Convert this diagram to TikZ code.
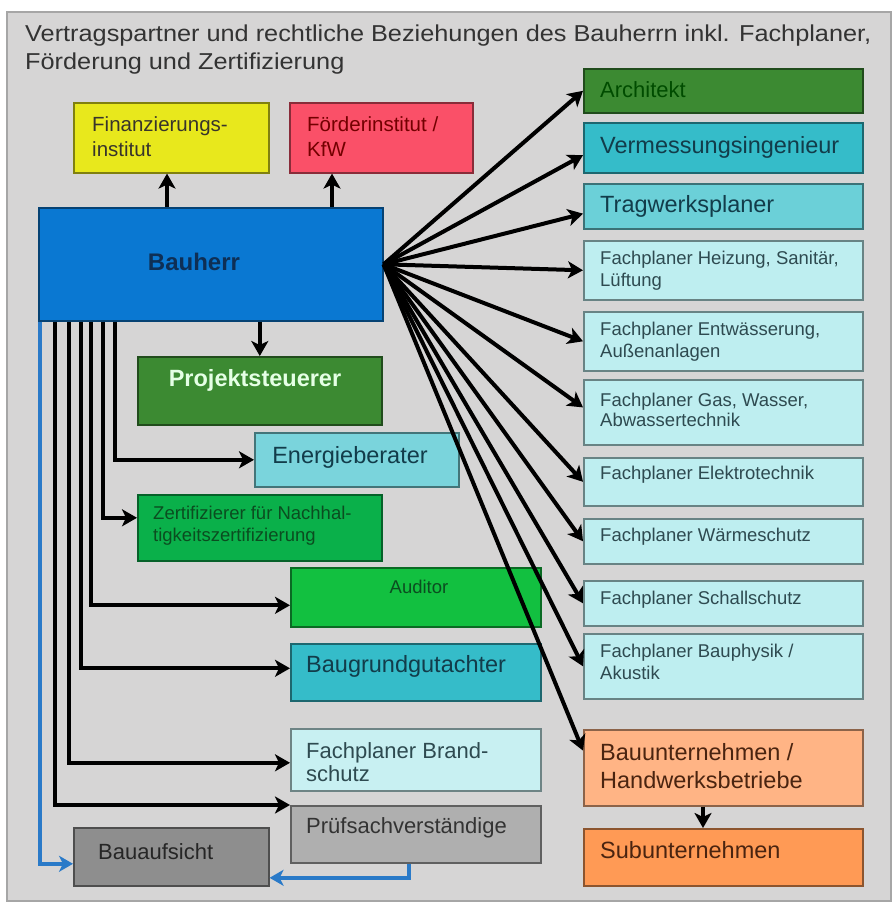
\documentclass[tikz,border=0pt]{standalone}
\usepackage{fontspec}
\setmainfont{Liberation Sans}
\newfontfamily\titlefont[FakeStretch=1.1]{Liberation Sans}
\usetikzlibrary{arrows.meta}

\definecolor{bggray}{HTML}{D6D5D5}
\definecolor{framegray}{HTML}{A6A6A6}
\definecolor{titlegray}{HTML}{333333}
\definecolor{cYellow}{HTML}{E8E81C}
\definecolor{cPink}{HTML}{FA5068}
\definecolor{cBlue}{HTML}{0A78D2}
\definecolor{cDarkGreen}{HTML}{3C8A32}
\definecolor{cEnergy}{HTML}{7AD4DC}
\definecolor{cGreen}{HTML}{0AB04A}
\definecolor{cAuditor}{HTML}{12C040}
\definecolor{cTeal}{HTML}{35BCC9}
\definecolor{cTrag}{HTML}{6BD0D8}
\definecolor{cLight}{HTML}{BEEEF0}
\definecolor{cBrand}{HTML}{C8F0F2}
\definecolor{cPruef}{HTML}{AFAFAF}
\definecolor{cAufsicht}{HTML}{8E8E8E}
\definecolor{cBau}{HTML}{FFB485}
\definecolor{cSub}{HTML}{FF9A55}
\definecolor{arrblue}{HTML}{2A7AC8}
\definecolor{tNavy}{HTML}{0E2F55}
\definecolor{tTeal}{HTML}{123C4A}
\definecolor{tGreen}{HTML}{0B4D20}
\definecolor{tBrown}{HTML}{4A2410}
\definecolor{tGray}{HTML}{2E4A50}

\tikzset{
  box/.style={draw=#1!55!black, fill=#1, line width=1.6pt, anchor=north west, inner sep=0pt},
  txt/.style={anchor=west, align=left, inner sep=0pt},
  fsmall/.style={font=\fontsize{18.5}{22}\selectfont},
  fmid/.style={font=\fontsize{22}{23}\selectfont},
  fbig/.style={font=\fontsize{23.5}{28}\selectfont},
  ftitle/.style={font=\titlefont\fontsize{23}{28}\selectfont},
  arr/.style={-{Stealth[length=15pt,width=17pt,inset=4pt]}, line width=4pt, black},
  bluearr/.style={-{Stealth[length=14pt,width=16pt,inset=4pt]}, line width=3.6pt, arrblue}
}

\begin{document}
\begin{tikzpicture}[x=1pt, y=-1pt]
  \useasboundingbox (0,0) rectangle (893,907);

  % background and title
  \filldraw[fill=bggray, draw=framegray, line width=1.5pt] (7,12) rectangle (891,901);
  \node[anchor=base west, inner sep=0pt, ftitle, text=titlegray] (title1) at (25,42) {Vertragspartner und rechtliche Beziehungen des Bauherrn inkl. Fachplaner,};
  \node[anchor=base west, inner sep=0pt, ftitle, text=titlegray] (title2) at (25,70) {Förderung und Zertifizierung};

  % left side boxes
  \node[box=cYellow, minimum width=195pt, minimum height=70pt] (fin) at (73,102) {};
  \node[box=cPink, minimum width=183pt, minimum height=70pt] (foe) at (289,102) {};
  \node[box=cBlue, minimum width=344pt, minimum height=113pt] (bh) at (38,207) {};
  \node[box=cDarkGreen, minimum width=244pt, minimum height=68pt] (ps) at (137,356) {};
  \node[box=cEnergy, minimum width=204pt, minimum height=54pt] (eb) at (254,432) {};
  \node[box=cGreen, minimum width=244pt, minimum height=66pt] (zert) at (137,494) {};
  \node[box=cAuditor, minimum width=250pt, minimum height=59pt] (aud) at (290,567) {};
  \node[box=cTeal, minimum width=250pt, minimum height=57pt] (bgg) at (290,643) {};
  \node[box=cBrand, minimum width=250pt, minimum height=62pt] (brand) at (290,728) {};
  \node[box=cPruef, minimum width=250pt, minimum height=57pt] (pruef) at (290,805) {};
  \node[box=cAufsicht, minimum width=195pt, minimum height=58pt] (baua) at (73,827) {};

  % right column
  \node[box=cDarkGreen, minimum width=279pt, minimum height=44pt] (arch) at (583,68) {};
  \node[box=cTeal, minimum width=279pt, minimum height=50pt] (verm) at (583,122) {};
  \node[box=cTrag, minimum width=279pt, minimum height=45pt] (trag) at (583,183) {};
  \node[box=cLight, minimum width=279pt, minimum height=59pt] (hzg) at (583,240) {};
  \node[box=cLight, minimum width=279pt, minimum height=59pt] (ent) at (583,311) {};
  \node[box=cLight, minimum width=279pt, minimum height=65pt] (gas) at (583,379) {};
  \node[box=cLight, minimum width=279pt, minimum height=48pt] (elt) at (583,457) {};
  \node[box=cLight, minimum width=279pt, minimum height=45pt] (wsch) at (583,518) {};
  \node[box=cLight, minimum width=279pt, minimum height=45pt] (ssch) at (583,580) {};
  \node[box=cLight, minimum width=279pt, minimum height=65pt] (bph) at (583,633) {};
  \node[box=cBau, minimum width=279pt, minimum height=76pt] (bu) at (583,729) {};
  \node[box=cSub, minimum width=279pt, minimum height=57pt] (sub) at (583,828) {};

  % labels
  \node[txt, font=\fontsize{20.5}{25}\selectfont, text=black!80!olive] (fin-t) at (92,137) {Finanzierungs-\\institut};
  \node[txt, font=\fontsize{20.5}{25}\selectfont, text=red!45!black] (foe-t) at (307,137) {Förderinstitut /\\KfW};
  \node[anchor=center, inner sep=0pt, font=\bfseries\fontsize{24}{28}\selectfont, text=tNavy] (bh-t) at (194,262) {Bauherr};
  \node[anchor=center, inner sep=0pt, font=\bfseries\fontsize{23.5}{28}\selectfont, text=white!90!green] (ps-t) at (255,380) {Projektsteuerer};
  \node[anchor=center, inner sep=0pt, fbig, text=tTeal] (eb-t) at (350,457) {Energieberater};
  \node[txt, fsmall, text=tGreen] (zert-t) at (153,526) {Zertifizierer für Nachhal-\\tigkeitszertifizierung};
  \node[anchor=center, inner sep=0pt, fsmall, text=tGreen] (aud-t) at (419,587) {Auditor};
  \node[txt, fbig, text=tTeal] (bgg-t) at (306,666) {Baugrundgutachter};
  \node[txt, fmid, text=tGray] (brand-t) at (306,762) {Fachplaner Brand-\\schutz};
  \node[txt, fmid, text=black!80] (pruef-t) at (306,828) {Prüfsachverständige};
  \node[txt, fmid, text=black!85] (baua-t) at (98,852) {Bauaufsicht};

  \node[txt, font=\fontsize{22}{26}\selectfont, text=black!70!green] (arch-t) at (600,90) {Architekt};
  \node[txt, fbig, text=tTeal] (verm-t) at (600,147) {Vermessungsingenieur};
  \node[txt, fbig, text=tTeal] (trag-t) at (600,206) {Tragwerksplaner};
  \node[txt, fsmall, text=tGray] (hzg-t) at (600,271) {Fachplaner Heizung, Sanitär,\\Lüftung};
  \node[txt, fsmall, text=tGray] (ent-t) at (600,342) {Fachplaner Entwässerung,\\Außenanlagen};
  \node[txt, fsmall, text=tGray, font=\fontsize{18.5}{20.5}\selectfont] (gas-t) at (600,410) {Fachplaner Gas, Wasser,\\Abwassertechnik};
  \node[txt, fsmall, text=tGray] (elt-t) at (600,475) {Fachplaner Elektrotechnik};
  \node[txt, fsmall, text=tGray] (wsch-t) at (600,537) {Fachplaner Wärmeschutz};
  \node[txt, fsmall, text=tGray] (ssch-t) at (600,600) {Fachplaner Schallschutz};
  \node[txt, fsmall, text=tGray] (bph-t) at (600,662) {Fachplaner Bauphysik /\\Akustik};
  \node[txt, fbig, text=tBrown] (bu-t) at (600,766) {Bauunternehmen /\\Handwerksbetriebe};
  \node[txt, fbig, text=tBrown] (sub-t) at (600,850) {Subunternehmen};

  % arrows up and down
  \draw[arr] (167,0 |- bh.north) -- (167,0 |- fin.south);
  \draw[arr] (332,0 |- bh.north) -- (332,0 |- foe.south);
  \draw[arr] (ps.north |- bh.south) -- (ps.north);
  \draw[arr] (703,0 |- bu.south) -- (703,0 |- sub.north);

  % fan to the right column
  \foreach \t in {arch.west, verm.183, trag.183, hzg.west, ent.west, gas.178, elt.west, wsch.west, ssch.west, bph.west, bu.173}
    \draw[arr] (bh.east) -- (\t);

  % elbow arrows on the left
  \draw[arr] (115,0 |- bh.south) |- (eb.west);
  \draw[arr] (103,0 |- bh.south) |- ([yshift=10pt]zert.west);
  \draw[arr] (91,0 |- bh.south) |- ([yshift=-8pt]aud.west);
  \draw[arr] (81,0 |- bh.south) |- ([yshift=4pt]bgg.west);
  \draw[arr] (69,0 |- bh.south) |- ([yshift=-3pt]brand.west);
  \draw[arr] (55,0 |- bh.south) |- (pruef.north west);

  % building authority
  \draw[bluearr] (40,0 |- bh.south) |- ([yshift=-7pt]baua.west);
  \draw[bluearr] (409,0 |- pruef.south) |- ([yshift=-21pt]baua.east);
\end{tikzpicture}
\end{document}
